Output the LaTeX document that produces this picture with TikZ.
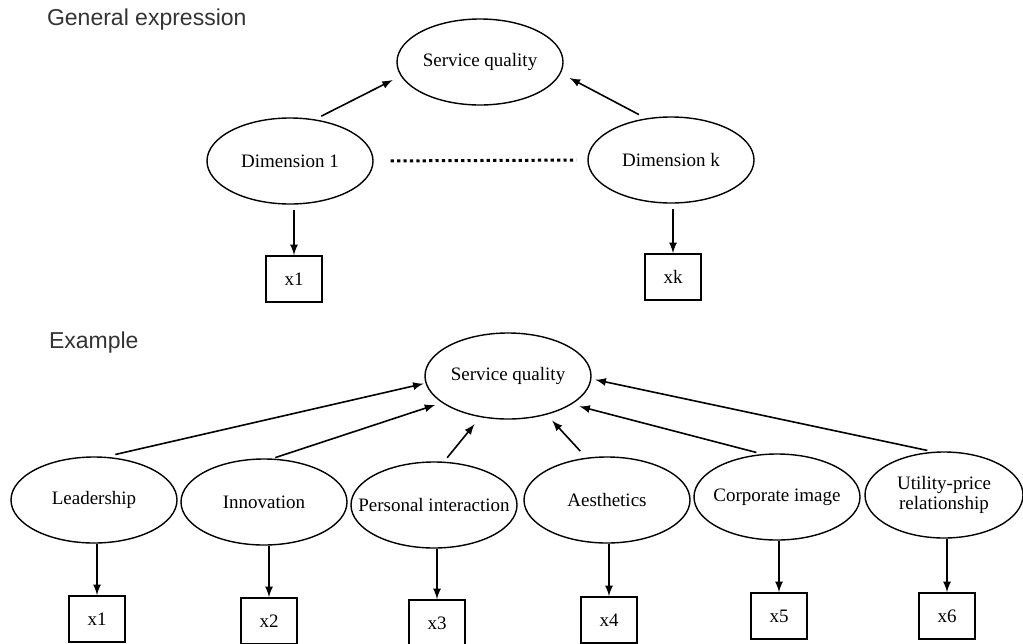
\documentclass[tikz,border=0pt]{standalone}
\usepackage{fontspec}
\setmainfont{Liberation Serif}
\newfontfamily\headfont{Liberation Sans}
\usetikzlibrary{shapes.geometric}
% text that does not widen the ellipse
\newcommand{\ctext}[1]{\makebox[0pt]{#1}}
\begin{document}
\begin{tikzpicture}[x=0.5pt, y=-0.5pt,
  font=\fontsize{9.5}{10}\selectfont,
  latent/.style={draw, ellipse, line width=0.7pt, minimum width=83pt, minimum height=43pt, inner sep=0pt},
  obs/.style={draw, rectangle, line width=0.9pt, minimum width=28pt, minimum height=23pt, inner sep=0pt},
  heading/.style={anchor=west, font=\headfont\fontsize{11.5}{13}\selectfont, text=black!80},
  lnk/.style={->, >=latex, line width=0.8pt},
  dots/.style={line width=1.5pt, dash pattern=on 1.6pt off 1.6pt}]
  \useasboundingbox (0,0) rectangle (1023,643);

  % general expression
  \node[heading] (gen) at (40,20) {General expression};
  \node[latent] (sqa) at (480,62) {\ctext{Service quality}};
  \node[latent] (dim1) at (290,161) {\ctext{Dimension 1}};
  \node[latent] (dimk) at (671,160) {\ctext{Dimension k}};
  \node[obs] (xa) at (294,279) {x1};
  \node[obs] (xk) at (673,277) {xk};
  \draw [lnk, shorten <=3.5pt, shorten >=4.5pt] (dim1.59) -- (sqa.190);
  \draw [lnk, shorten <=4pt, shorten >=5pt] (dimk.121) -- (sqa.352);
  \draw [dots, shorten <=8.5pt, shorten >=5.5pt] (dim1.east) -- (dimk.west);
  \draw [lnk, shorten <=2.5pt] (dim1.south -| xa) -- (xa);
  \draw [lnk, shorten <=2.5pt] (dimk.south -| xk) -- (xk);

  % example
  \node[heading] (ex) at (42,343) {Example};
  \node[latent] (sqb) at (508,376) {\ctext{Service quality}};
  \node[latent] (lead) at (94,500) {\ctext{Leadership}};
  \node[latent] (innov) at (264,502) {\ctext{Innovation}};
  \node[latent] (pers) at (434,505) {\ctext{Personal interaction}};
  \node[latent] (aest) at (607,500) {\ctext{Aesthetics}};
  \node[latent] (corp) at (777,497) {\ctext{Corporate image}};
  \node[latent, minimum width=79pt] (util) at (944,495)
    {\ctext{\begin{tabular}{@{}c@{}}Utility-price\\relationship\end{tabular}}};
  \node[obs] (x1) at (97,619) {x1};
  \node[obs] (x2) at (269,621) {x2};
  \node[obs] (x3) at (437,623) {x3};
  \node[obs] (x4) at (609,620) {x4};
  \node[obs] (x5) at (779,616) {x5};
  \node[obs] (x6) at (947,616) {x6};
  \draw [lnk, shorten <=5pt, shorten >=1pt] (lead.75) -- (sqb.185);
  \draw [lnk, shorten <=1.5pt, shorten >=3.5pt] (innov.79) -- (sqb.202);
  \draw [lnk, shorten <=2.5pt, shorten >=4.5pt] (pers.77) -- (sqb.236);
  \draw [lnk, shorten <=4.5pt, shorten >=4pt] (aest.116) -- (sqb.315);
  \draw [lnk, shorten <=3pt, shorten >=4pt] (corp.109) -- (sqb.336);
  \draw [lnk, shorten <=3pt, shorten >=2pt] (util.104) -- (sqb.358);
  \draw [lnk] (lead.south -| x1) -- (x1);
  \draw [lnk] (innov.south -| x2) -- (x2);
  \draw [lnk] (pers.south -| x3) -- (x3);
  \draw [lnk] (aest.south -| x4) -- (x4);
  \draw [lnk] (corp.south -| x5) -- (x5);
  \draw [lnk] (util.south -| x6) -- (x6);
\end{tikzpicture}
\end{document}
